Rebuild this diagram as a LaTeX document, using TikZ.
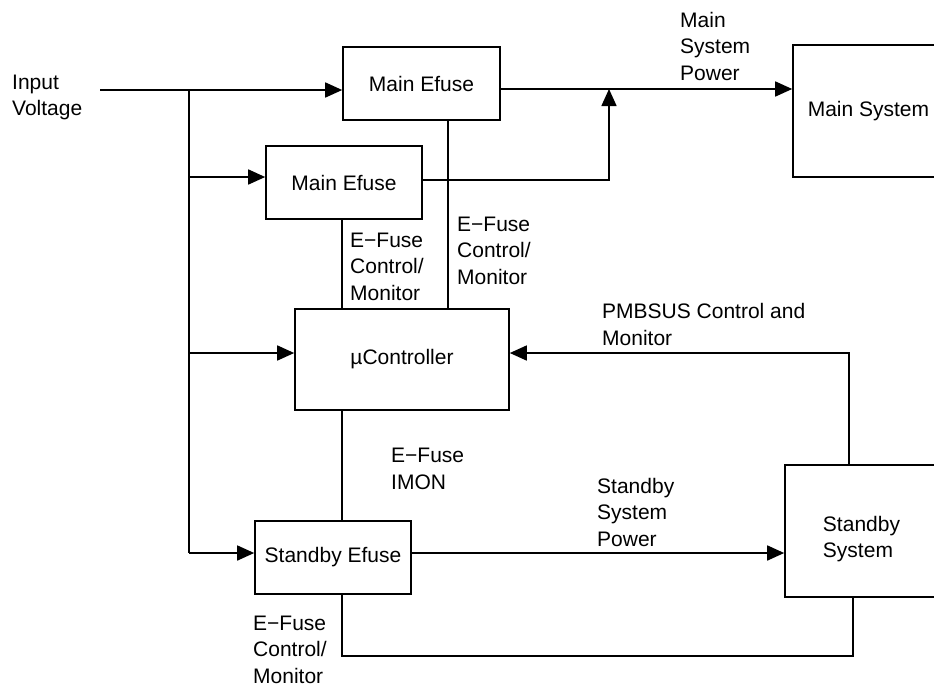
\documentclass[tikz,border=0pt]{standalone}
\usepackage{fontspec}
\setmainfont{Liberation Sans}
\usetikzlibrary{arrows.meta}

\tikzset{
  blk/.style={draw, line width=1.6pt, inner sep=0pt, font=\fontsize{21pt}{26.5pt}\selectfont},
  lbl/.style={anchor=base west, align=left, inner sep=0pt, font=\fontsize{21pt}{26.5pt}\selectfont},
  wire/.style={line width=1.6pt},
  feed/.style={wire, -{Triangle[length=17pt,width=15pt]}},
}

\begin{document}
\begin{tikzpicture}[x=1pt,y=-1pt]
        \useasboundingbox (0,0) rectangle (934,689);

        \node[blk, minimum width=157pt, minimum height=73pt] (mainA) at (421.5,83.5) {Main Efuse};
        \node[blk, minimum width=156pt, minimum height=73pt] (mainB) at (344,182.5) {Main Efuse};
        \node[blk, minimum width=214pt, minimum height=101pt] (uC) at (402,359.5) {µController};
        \node[blk, minimum width=156pt, minimum height=73pt] (stbyE) at (333,557.5) {Standby Efuse};
        \node[blk, minimum width=151pt, minimum height=132pt] (mainSys) at (868.5,111) {Main System};
        \node[blk, minimum width=153pt, minimum height=132pt, align=left, text height=58pt] (stbySys) at (861.5,531) {Standby\\System};

        \node[lbl] (vin) at (12,115.5) {Input\\Voltage};
        \node[lbl] (pwrA) at (680,80) {Main\\System\\Power};
        \node[lbl] (ctlB) at (350,300) {E−Fuse\\Control/\\Monitor};
        \node[lbl] (ctlA) at (457,284) {E−Fuse\\Control/\\Monitor};
        \node[lbl] (pmb) at (602,345) {PMBSUS Control and\\Monitor};
        \node[lbl] (imon) at (391,489) {E−Fuse\\IMON};
        \node[lbl] (pwrS) at (597,546) {Standby\\System\\Power};
        \node[lbl] (ctlS) at (253,683) {E−Fuse\\Control/\\Monitor};

        \coordinate (inp) at (100,90);
        \coordinate (tap) at (189,90);
        \coordinate (jB) at (189,177);
        \coordinate (jC) at (189,353);
        \coordinate (jD) at (189,553);
        \coordinate (mj) at (609,89);
        \coordinate (mb) at (609,180);
        \coordinate (ca) at (448,0);
        \coordinate (cb) at (342,0);
        \coordinate (pm) at (849,0);
        \coordinate (lo) at (853,656);

        \draw[feed] (inp) -- (inp -| mainA.west);
        \draw[wire] (tap) -- (jD);
        \draw[feed] (jB) -- (jB -| mainB.west);
        \draw[feed] (jC) -- (jC -| uC.west);
        \draw[feed] (jD) -- (jD -| stbyE.west);

        \draw[feed] (mj -| mainA.east) -- (mj -| mainSys.west);
        \draw[feed] (mb -| mainB.east) -- (mb) -- (mj);

        \draw[wire] (mainA.south -| ca) -- (uC.north -| ca);
        \draw[wire] (mainB.south -| cb) -- (uC.north -| cb);
        \draw[wire] (uC.south -| cb) -- (stbyE.north -| cb);

        \draw[feed] (stbySys.north -| pm) -- (pm |- jC) -- (uC.east |- jC);
        \draw[feed] (stbyE.east |- jD) -- (stbySys.west |- jD);
        \draw[wire] (stbyE.south -| cb) -- (cb |- lo) -- (lo) -- (lo |- stbySys.south);

\end{tikzpicture}
\end{document}
